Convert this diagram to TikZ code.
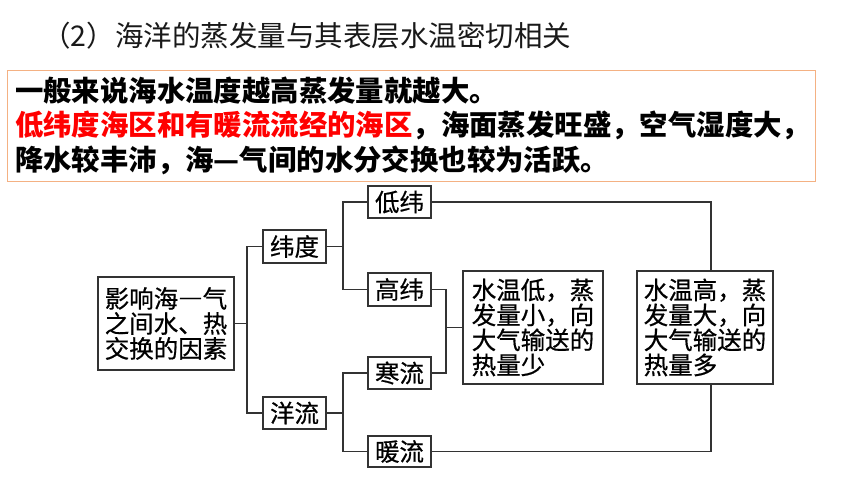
\documentclass[tikz,border=0pt]{standalone}
\usepackage{fontspec}
\setmainfont{Noto Sans CJK SC}
\newfontfamily\diagfont{Noto Sans CJK SC}[FakeBold=0.6]
\definecolor{boxorange}{HTML}{F4B183}
\definecolor{linegray}{HTML}{333333}
\definecolor{hired}{HTML}{FF0000}
\newcommand{\fwdash}{{\addfontfeatures{CharacterWidth=Full}—}}
\begin{document}
\begin{tikzpicture}[x=1pt,y=-1pt,
  fbox/.style={draw=linegray, line width=1.3pt, inner sep=0pt, align=left,
    font=\diagfont\fontsize{24.5}{25}\selectfont, text=black},
  conn/.style={draw=linegray, line width=1.3pt},
  titletext/.style={anchor=west, inner sep=0pt, font=\fontsize{28.5}{30}\selectfont, text=black!90},
  notetext/.style={anchor=west, inner sep=0pt, align=left, font=\fontsize{28.4}{34.5}\selectfont\bfseries}
]
\useasboundingbox (0,0) rectangle (860,484);
\fill[white] (0,0) rectangle (860,484);

% title
\node[titletext] (title) at (42,36) {（2）海洋的蒸发量与其表层水温密切相关};

% note box
\node[draw=boxorange, line width=1pt, minimum width=808pt, minimum height=111pt, inner sep=0pt] (note) at (411,126) {};
\node[notetext] (notetxt) at (15,125.5) {一般来说海水温度越高蒸发量就越大。\\
\textcolor{hired}{低纬度海区和有暖流流经的海区}，海面蒸发旺盛，空气湿度大，\\
降水较丰沛，海—气间的水分交换也较为活跃。};

% diagram boxes
\node[fbox, minimum width=136pt, minimum height=93pt] (yx) at (166,323.5) {影响海\fwdash 气\\之间水、热\\交换的因素};
\node[fbox, minimum width=63pt, minimum height=33pt] (wd) at (294.5,246.5) {纬度};
\node[fbox, minimum width=63pt, minimum height=32pt] (yl) at (294.5,413) {洋流};
\node[fbox, minimum width=63pt, minimum height=32pt] (dw) at (399.5,202) {低纬};
\node[fbox, minimum width=63pt, minimum height=33pt] (gw) at (399.5,289.5) {高纬};
\node[fbox, minimum width=63pt, minimum height=32pt] (hl) at (399.5,373) {寒流};
\node[fbox, minimum width=63pt, minimum height=31pt] (nl) at (399.5,451.5) {暖流};
\node[fbox, minimum width=140pt, minimum height=113pt] (sl) at (533,327.5) {水温低，蒸\\发量小，向\\大气输送的\\热量少\phantom{蒸发}};
\node[fbox, minimum width=136pt, minimum height=113pt] (sh) at (705,327.5) {水温高，蒸\\发量大，向\\大气输送的\\热量多\phantom{蒸发}};

% junction coordinates
\coordinate (j1) at (247,0);
\coordinate (j2) at (343,0);
\coordinate (j3) at (446,0);
\coordinate (j4) at (711,0);

% connectors
\draw[conn] (yx.east) -- (yx.east -| j1);
\draw[conn] (wd.west) -- (wd.west -| j1) -- (yl.west -| j1) -- (yl.west);
\draw[conn] (wd.east) -- (wd.east -| j2);
\draw[conn] (dw.west) -- (dw.west -| j2) -- (gw.west -| j2) -- (gw.west);
\draw[conn] (yl.east) -- (yl.east -| j2);
\draw[conn] (hl.west) -- (hl.west -| j2) -- (nl.west -| j2) -- (nl.west);
\draw[conn] (gw.east) -- (gw.east -| j3) -- (hl.east -| j3) -- (hl.east);
\draw[conn] (sl.west) -- (sl.west -| j3);
\draw[conn] (dw.east) -- (dw.east -| j4) -- (j4 |- sh.north);
\draw[conn] (nl.east) -- (nl.east -| j4) -- (j4 |- sh.south);
\end{tikzpicture}
\end{document}
